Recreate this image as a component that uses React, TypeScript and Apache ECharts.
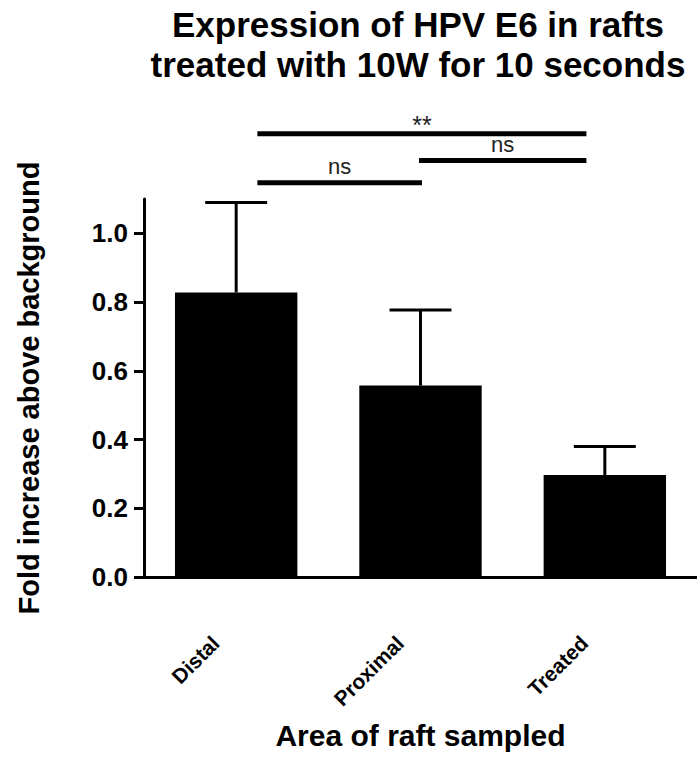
import React, { useEffect, useRef } from 'react';
import * as echarts from 'echarts';

const categories = ['Distal', 'Proximal', 'Treated'];
const means = [0.828, 0.557, 0.297];
const errors = [0.262, 0.22, 0.083];
const yTicks = [0, 0.2, 0.4, 0.6, 0.8, 1.0];
const sigLabels = ['ns', 'ns', '**'];
const sigLevels = [1.147, 1.212, 1.29];
const sigStart = [0.115, 0.992, 0.115];
const sigEnd = [1.008, 1.9, 1.9];

const FONT = '"Liberation Sans", Arial, Helvetica, sans-serif';

export default function App() {
  const ref = useRef<HTMLDivElement>(null);
  useEffect(() => {
    if (!ref.current) return;
    const chart = echarts.init(ref.current, null, { renderer: 'svg' });
    chart.setOption({
      animation: false,
      backgroundColor: '#fff',
      textStyle: { fontFamily: FONT },
      title: {
        text: 'Expression of HPV E6 in rafts\ntreated with 10W for 10 seconds',
        left: 418,
        top: 4,
        padding: 0,
        textAlign: 'center',
        textStyle: {
          fontFamily: FONT,
          fontSize: 35,
          fontWeight: 'bold',
          color: '#000',
          lineHeight: 40,
        },
      },
      grid: {
        left: 144,
        right: 0,
        top: 199,
        bottom: 188,
        containLabel: false,
        outerBoundsMode: 'none',
      },
      xAxis: {
        type: 'category',
        data: categories,
        name: 'Area of raft sampled',
        nameLocation: 'middle',
        nameGap: 143,
        nameMoveOverlap: false,
        nameTextStyle: { fontFamily: FONT, fontSize: 30, fontWeight: 'bold', color: '#000' },
        axisLine: { lineStyle: { color: '#000', width: 3 } },
        axisTick: { alignWithLabel: true, length: 10, lineStyle: { color: '#000', width: 3 } },
        axisLabel: {
          rotate: 45,
          margin: 42,
          padding: [0, 29, 0, 0],
          fontFamily: FONT,
          fontSize: 21,
          fontWeight: 'bold',
          color: '#000',
        },
        splitLine: { show: false },
      },
      yAxis: {
        type: 'value',
        min: 0,
        max: 1.1,
        interval: 0.2,
        name: 'Fold increase above background',
        nameLocation: 'middle',
        nameGap: 101,
        nameMoveOverlap: false,
        nameTextStyle: { fontFamily: FONT, fontSize: 29, fontWeight: 'bold', color: '#000' },
        axisLine: { show: true, lineStyle: { color: '#000', width: 3 } },
        axisTick: { show: true, length: 10, customValues: yTicks, lineStyle: { color: '#000', width: 3 } },
        axisLabel: {
          margin: 16,
          customValues: yTicks,
          formatter: (v: number) => v.toFixed(1),
          fontFamily: FONT,
          fontSize: 26,
          fontWeight: 'bold',
          color: '#000',
        },
        splitLine: { show: false },
      },
      series: [
        {
          type: 'bar',
          data: means,
          barWidth: '66.4%',
          itemStyle: { color: '#000' },
          z: 2,
        },
        {
          type: 'custom',
          z: 3,
          clip: false,
          data: means.map((m, i) => [i, m, errors[i]]),
          encode: { x: 0, y: 1 },
          renderItem: (params: any, api: any) => {
            const i = params.dataIndex;
            const m = means[i];
            const e = errors[i];
            const base = api.coord([i, m]);
            const top = api.coord([i, m + e]);
            const half = api.size([1, 0])[0] * 0.168;
            const st = { stroke: '#000', lineWidth: 3 };
            return {
              type: 'group',
              children: [
                { type: 'line', shape: { x1: base[0], y1: base[1], x2: top[0], y2: top[1] }, style: st },
                { type: 'line', shape: { x1: top[0] - half, y1: top[1], x2: top[0] + half, y2: top[1] }, style: st },
              ],
            };
          },
        },
        {
          type: 'custom',
          z: 4,
          clip: false,
          data: sigLevels.map((l, i) => [i, l]),
          encode: { x: 0, y: 1 },
          renderItem: (params: any, api: any) => {
            const i = params.dataIndex;
            const c0 = api.coord([0, sigLevels[i]]);
            const c1 = api.coord([1, sigLevels[i]]);
            const band = c1[0] - c0[0];
            const x1 = c0[0] + sigStart[i] * band;
            const x2 = c0[0] + sigEnd[i] * band;
            const y = c0[1];
            const isStar = sigLabels[i] === '**';
            return {
              type: 'group',
              children: [
                { type: 'line', shape: { x1, y1: y, x2, y2: y }, style: { stroke: '#000', lineWidth: 5 } },
                {
                  type: 'text',
                  x: (x1 + x2) / 2,
                  y: isStar ? y + 4 : y - 5,
                  style: {
                    text: sigLabels[i],
                    fill: '#222',
                    fontFamily: FONT,
                    fontSize: isStar ? 25 : 22,
                    align: 'center',
                    verticalAlign: 'bottom',
                  },
                },
              ],
            };
          },
        },
      ],
    });
    return () => chart.dispose();
  }, []);
  return (
    <div
      ref={ref}
      style={{ position: 'fixed', left: 0, top: 0, width: 697, height: 765, background: '#fff' }}
    />
  );
}
